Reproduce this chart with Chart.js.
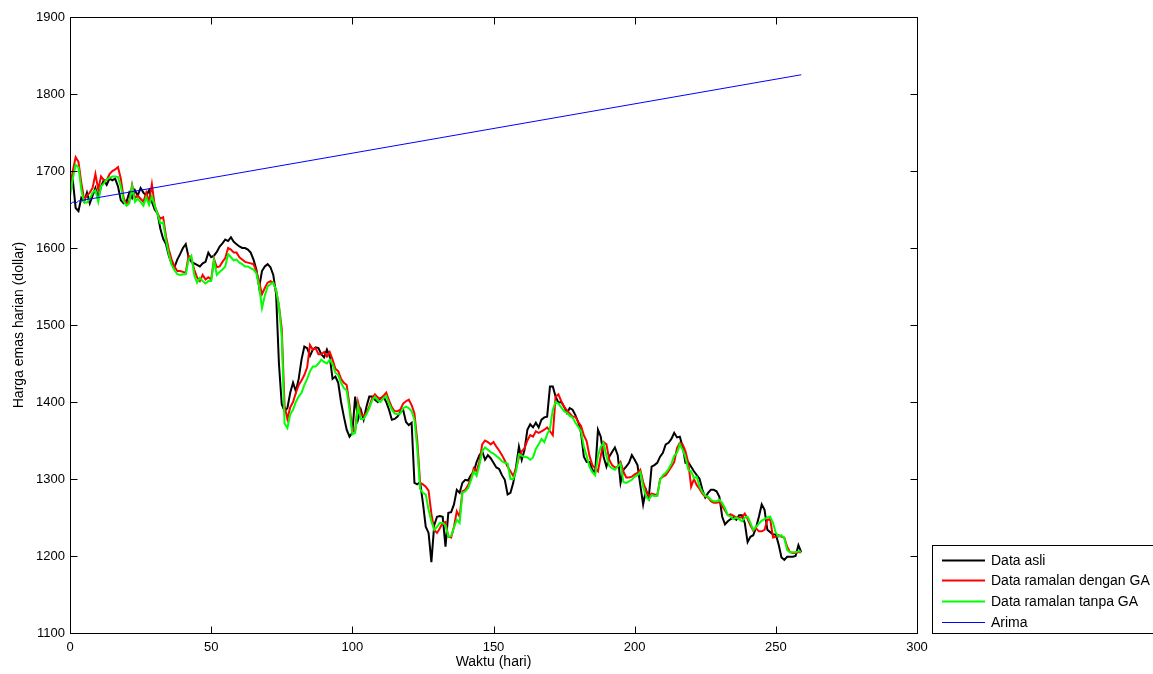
<!DOCTYPE html>
<html>
<head>
<meta charset="utf-8">
<script src="https://cdn.jsdelivr.net/npm/chart.js@4.4.1/dist/chart.umd.min.js"></script>
<style>
html,body{margin:0;padding:0;background:#fff}
canvas{display:block}
</style>
</head>
<body>
<canvas id="chartEmasHTML" width="1153" height="674"></canvas>
<script>
// harga emas harian, hari ke-0 s/d 259
const dataAsli = [
1696,1688,1652,1648,1665,1660,1672,1658,1668,1678,
1665,1680,1688,1682,1690,1688,1690,1680,1662,1658,
1660,1672,1665,1675,1668,1678,1672,1668,1675,1660,
1650,1645,1625,1612,1605,1590,1580,1575,1585,1592,
1600,1605,1588,1582,1580,1578,1576,1580,1582,1594,
1588,1590,1595,1602,1606,1611,1609,1614,1608,1605,
1602,1600,1600,1598,1594,1585,1572,1549,1570,1576,
1579,1575,1565,1540,1450,1397,1388,1392,1412,1425,
1414,1430,1455,1472,1470,1460,1468,1471,1470,1462,
1458,1468,1459,1430,1433,1425,1400,1381,1364,1355,
1360,1407,1377,1390,1377,1394,1407,1407,1403,1400,
1405,1407,1400,1390,1377,1378,1381,1387,1390,1374,
1370,1373,1295,1293,1296,1269,1238,1230,1192,1240,
1251,1252,1251,1212,1256,1257,1267,1286,1282,1295,
1299,1298,1305,1309,1322,1331,1336,1325,1331,1327,
1321,1315,1313,1305,1299,1280,1282,1295,1316,1342,
1325,1338,1364,1371,1367,1373,1367,1377,1380,1381,
1420,1420,1407,1399,1400,1394,1386,1392,1390,1383,
1374,1360,1329,1322,1322,1312,1308,1364,1355,1329,
1316,1329,1335,1341,1331,1295,1312,1316,1321,1331,
1325,1318,1292,1267,1286,1276,1316,1318,1321,1329,
1334,1345,1347,1352,1360,1354,1355,1342,1321,1322,
1316,1310,1305,1300,1286,1276,1282,1286,1286,1284,
1277,1251,1241,1245,1248,1250,1247,1253,1253,1243,
1218,1225,1227,1237,1251,1267,1260,1234,1231,1228,
1228,1215,1198,1195,1199,1199,1199,1200,1214,1205
];
const ramalanDenganGA = [
1679,1700,1718,1712,1685,1663,1668,1672,1678,1696,
1676,1693,1688,1688,1696,1700,1702,1705,1690,1665,
1657,1661,1682,1665,1668,1664,1660,1672,1660,1683,
1655,1645,1638,1640,1615,1598,1585,1576,1570,1570,
1569,1568,1590,1586,1572,1562,1557,1565,1559,1562,
1559,1586,1575,1576,1582,1587,1600,1598,1594,1594,
1588,1585,1582,1581,1580,1579,1570,1556,1540,1548,
1555,1557,1555,1545,1525,1495,1395,1378,1393,1400,
1412,1422,1428,1435,1445,1474,1468,1470,1462,1462,
1465,1459,1465,1455,1443,1440,1430,1425,1422,1396,
1362,1363,1400,1385,1382,1386,1394,1405,1410,1406,
1404,1408,1412,1402,1393,1388,1388,1390,1398,1401,
1403,1396,1385,1350,1295,1293,1290,1285,1255,1234,
1230,1236,1243,1244,1225,1224,1238,1258,1251,1284,
1286,1292,1300,1314,1310,1322,1345,1350,1348,1345,
1348,1342,1337,1331,1324,1316,1310,1304,1314,1328,
1336,1340,1350,1357,1355,1362,1360,1362,1364,1367,
1362,1357,1407,1410,1401,1394,1389,1385,1381,1381,
1374,1369,1357,1349,1330,1318,1314,1310,1330,1348,
1345,1325,1318,1315,1316,1322,1310,1302,1302,1303,
1306,1308,1312,1296,1285,1278,1281,1280,1279,1300,
1303,1305,1310,1316,1322,1340,1347,1345,1336,1321,
1290,1300,1292,1287,1281,1277,1276,1271,1269,1269,
1270,1265,1259,1253,1254,1252,1250,1250,1250,1255,
1248,1240,1233,1236,1232,1232,1234,1247,1248,1224,
1225,1227,1225,1224,1212,1205,1204,1204,1205,1205
];
const ramalanTanpaGA = [
1667,1690,1708,1705,1676,1659,1659,1664,1672,1675,
1660,1680,1684,1689,1691,1693,1693,1692,1680,1661,
1655,1658,1680,1660,1664,1660,1655,1666,1656,1667,
1655,1644,1632,1633,1610,1592,1578,1571,1566,1565,
1566,1566,1585,1590,1565,1555,1561,1557,1554,1557,
1557,1584,1565,1569,1572,1576,1592,1588,1584,1585,
1581,1579,1576,1576,1574,1572,1567,1550,1522,1538,
1550,1553,1555,1545,1525,1485,1372,1366,1384,1390,
1400,1407,1412,1422,1430,1440,1446,1446,1450,1455,
1452,1450,1455,1449,1438,1435,1425,1418,1415,1390,
1358,1360,1395,1378,1378,1384,1392,1402,1407,1402,
1400,1405,1408,1398,1390,1385,1384,1385,1392,1394,
1392,1388,1377,1340,1287,1282,1280,1260,1245,1234,
1238,1243,1243,1240,1225,1226,1237,1247,1243,1282,
1284,1288,1298,1310,1304,1318,1336,1341,1338,1335,
1333,1330,1327,1323,1321,1320,1300,1300,1310,1332,
1330,1329,1328,1325,1328,1339,1345,1352,1348,1358,
1365,1390,1400,1398,1393,1388,1386,1382,1380,1373,
1368,1362,1342,1330,1316,1309,1305,1330,1342,1347,
1330,1317,1314,1312,1316,1320,1296,1295,1297,1299,
1303,1305,1309,1290,1278,1273,1279,1278,1278,1299,
1305,1308,1313,1320,1330,1334,1345,1338,1328,1312,
1310,1301,1303,1290,1283,1278,1277,1273,1271,1271,
1273,1269,1262,1253,1251,1248,1250,1248,1245,1250,
1251,1243,1234,1238,1242,1246,1248,1250,1251,1243,
1230,1225,1227,1223,1208,1205,1205,1205,1206,1206
];
const arimaHari = [0, 1, 2, 3, 259];
const arimaNilai = [1656, 1660, 1658, 1661, 1825];

const namaSeri = ['Data asli', 'Data ramalan dengan GA', 'Data ramalan tanpa GA', 'Arima'];
const warnaSeri = ['#000000', '#ff0000', '#00ff00', '#0000ff'];
const xTicks = [0, 50, 100, 150, 200, 250, 300];
const yTicks = [1100, 1200, 1300, 1400, 1500, 1600, 1700, 1800, 1900];

const FONT = "'Liberation Sans', Arial, sans-serif";

function toXY(arr) {
  return arr.map((v, i) => ({x: i, y: v}));
}

// kotak sumbu ala matlab: bingkai, tick ke dalam, judul sumbu, legenda
const kotakSumbu = {
  id: 'kotakSumbu',
  afterDraw(chart) {
    const ctx = chart.ctx;
    const a = chart.chartArea;
    const sx = chart.scales.x, sy = chart.scales.y;
    const L = Math.round(a.left) + 0.5, R = Math.round(a.right) + 0.5;
    const T = Math.round(a.top) + 0.5, B = Math.round(a.bottom) + 0.5;
    ctx.save();
    ctx.strokeStyle = '#000';
    ctx.lineWidth = 1;
    ctx.strokeRect(L, T, R - L, B - T);
    ctx.beginPath();
    xTicks.forEach(v => {
      const px = Math.round(sx.getPixelForValue(v)) + 0.5;
      ctx.moveTo(px, B); ctx.lineTo(px, B - 7);
      ctx.moveTo(px, T); ctx.lineTo(px, T + 7);
    });
    yTicks.forEach(v => {
      const py = Math.round(sy.getPixelForValue(v)) + 0.5;
      ctx.moveTo(L, py); ctx.lineTo(L + 7, py);
      ctx.moveTo(R, py); ctx.lineTo(R - 7, py);
    });
    ctx.stroke();

    ctx.fillStyle = '#000';
    ctx.font = '14px ' + FONT;
    ctx.textAlign = 'center';
    ctx.textBaseline = 'middle';
    ctx.fillText('Waktu (hari)', (a.left + a.right) / 2, 662);
    ctx.save();
    ctx.translate(19, (a.top + a.bottom) / 2);
    ctx.rotate(-Math.PI / 2);
    ctx.fillText('Harga emas harian (dollar)', 0, 0);
    ctx.restore();

    // legenda
    ctx.strokeRect(932.5, 545.5, 230, 88);
    ctx.textAlign = 'left';
    const rowY = [560, 580, 601, 622];
    namaSeri.forEach((nm, i) => {
      ctx.beginPath();
      ctx.strokeStyle = warnaSeri[i];
      ctx.lineWidth = i === 3 ? 1 : 2;
      ctx.moveTo(942, rowY[i] + 0.5);
      ctx.lineTo(985, rowY[i] + 0.5);
      ctx.stroke();
      ctx.fillText(nm, 991, rowY[i] + 1);
    });
    ctx.restore();
  }
};

const tickFont = {family: FONT, size: 13};

const chartEmas = new Chart(document.getElementById('chartEmasHTML'), {
  type: 'line',
  data: {
    datasets: [
      {label: namaSeri[0], data: toXY(dataAsli), borderColor: warnaSeri[0], borderWidth: 2, order: 4},
      {label: namaSeri[1], data: toXY(ramalanDenganGA), borderColor: warnaSeri[1], borderWidth: 2, order: 3},
      {label: namaSeri[2], data: toXY(ramalanTanpaGA), borderColor: warnaSeri[2], borderWidth: 2, order: 2},
      {label: namaSeri[3], data: arimaHari.map((h, i) => ({x: h, y: arimaNilai[i]})), borderColor: warnaSeri[3], borderWidth: 1, order: 1}
    ]
  },
  options: {
    responsive: false,
    animation: false,
    devicePixelRatio: 1,
    layout: {padding: {left: 0, right: 236, top: 17, bottom: 0}},
    elements: {point: {radius: 0}, line: {tension: 0, fill: false}},
    plugins: {legend: {display: false}, tooltip: {enabled: false}},
    scales: {
      x: {
        type: 'linear', min: 0, max: 300,
        grid: {display: false, drawTicks: false},
        border: {display: false},
        afterBuildTicks: s => { s.ticks = xTicks.map(v => ({value: v})); },
        afterFit: s => { s.height = 41; },
        ticks: {color: '#000', font: tickFont, padding: 7, maxRotation: 0, autoSkip: false, callback: v => String(v)}
      },
      y: {
        type: 'linear', min: 1100, max: 1900,
        grid: {display: false, drawTicks: false},
        border: {display: false},
        afterBuildTicks: s => { s.ticks = yTicks.map(v => ({value: v})); },
        afterFit: s => { s.width = 70; },
        ticks: {color: '#000', font: tickFont, padding: 5, autoSkip: false, callback: v => String(v)}
      }
    }
  },
  plugins: [kotakSumbu]
});
</script>
</body>
</html>
